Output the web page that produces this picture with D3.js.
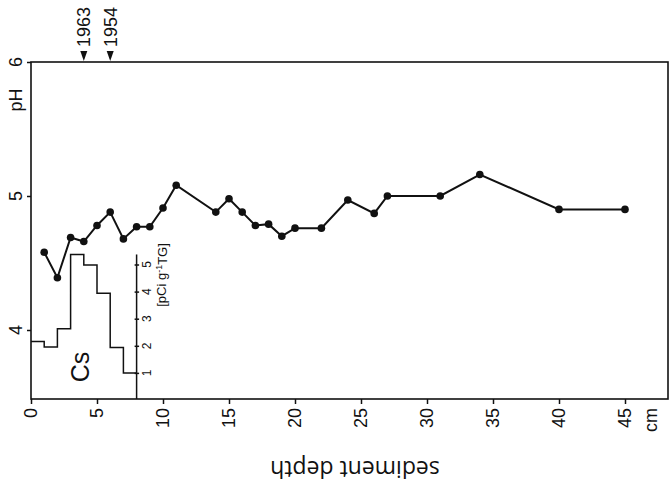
<!doctype html>
<html lang="en">

<head>
    <meta charset="utf-8">
    <title>pH and Cs profile</title>
    <script src="https://cdn.jsdelivr.net/npm/d3@7"></script>
    <style>
        body { margin: 0; background: #fff; }
        svg text { font-family: "Liberation Sans", Arial, sans-serif; fill: #111; }
    </style>
</head>

<body>
    <svg></svg>
    <script>
        var width = 671;
        var height = 494;

        // pH profile
        var depth = [1, 2, 3, 4, 5, 6, 7, 8, 9, 10, 11, 14, 15, 16, 17, 18, 19, 20, 22, 24, 26, 27, 31, 34, 40, 45];
        var pH = [4.58, 4.39, 4.69, 4.66, 4.78, 4.88, 4.68, 4.77, 4.77, 4.91, 5.08, 4.88, 4.98, 4.88, 4.78, 4.79, 4.70, 4.76, 4.76, 4.97, 4.87, 5.0, 5.0, 5.16, 4.90, 4.90];

        // Cs activity, one value per cm from 0 to 8
        var csDepth = [0, 1, 2, 3, 4, 5, 6, 7];
        var csValue = [2.16, 1.96, 2.63, 5.37, 4.98, 3.94, 1.94, 1.0];

        var xTicks = [0, 5, 10, 15, 20, 25, 30, 35, 40, 45];
        var yTicks = [4, 5, 6];
        var csTicks = [1, 2, 3, 4, 5];
        var years = ["1963", "1954"];
        var yearDepth = [4, 6];

        // plot box (note: "top" is reserved on window, so use other names)
        var plotLeft = 31, plotRight = 668, plotTop = 62, plotBottom = 399;

        var xScale = d3.scaleLinear().domain([0, 45]).range([plotLeft, plotLeft + 45 * 13.2]);
        var yScale = d3.scaleLinear().domain([4, 6]).range([330, plotTop]);
        var csScale = d3.scaleLinear().domain([0, 5]).range([plotBottom + 1, plotBottom + 1 - 5 * 27.1]);

        var svg = d3.select('svg').attr('width', width).attr('height', height);

        // frame
        svg.append('rect')
            .attr('x', plotLeft).attr('y', plotTop)
            .attr('width', plotRight - plotLeft).attr('height', plotBottom - plotTop)
            .attr('fill', 'none').attr('stroke', '#111').attr('stroke-width', 1.6);

        // x axis
        var xAxis = d3.axisBottom(xScale).tickValues(xTicks).tickSize(5).tickFormat('');
        var gx = svg.append('g').attr('transform', 'translate(0,' + plotBottom + ')').call(xAxis);
        gx.select('.domain').remove();
        gx.selectAll('line').attr('stroke', '#111').attr('stroke-width', 1.5);

        svg.selectAll('.xlab')
            .data(xTicks)
            .enter()
            .append('text')
            .attr('class', 'xlab')
            .attr('transform', function (d) { return 'translate(' + xScale(d) + ',408) rotate(-90)'; })
            .attr('text-anchor', 'end')
            .attr('dy', '0.35em')
            .attr('font-size', 18)
            .text(function (d) { return d; });

        svg.append('text')
            .attr('transform', 'translate(651,408) rotate(-90)')
            .attr('text-anchor', 'end')
            .attr('dy', '0.35em')
            .attr('font-size', 18)
            .text('cm');

        svg.append('text')
            .attr('transform', 'translate(355,469) rotate(180)')
            .attr('text-anchor', 'middle')
            .attr('dy', '0.35em')
            .attr('font-size', 23)
            .style('font-family', '"Open Sans", sans-serif')
            .text('sediment depth');

        // y axis
        var yAxis = d3.axisLeft(yScale).tickValues(yTicks).tickSize(4).tickFormat('');
        var gy = svg.append('g').attr('transform', 'translate(' + plotLeft + ',0)').call(yAxis);
        gy.select('.domain').remove();
        gy.selectAll('line').attr('stroke', '#111').attr('stroke-width', 1.5);

        svg.selectAll('.ylab')
            .data(yTicks)
            .enter()
            .append('text')
            .attr('class', 'ylab')
            .attr('transform', function (d) { return 'translate(16,' + yScale(d) + ') rotate(-90)'; })
            .attr('text-anchor', 'middle')
            .attr('dy', '0.35em')
            .attr('font-size', 18)
            .text(function (d) { return d; });

        svg.append('text')
            .attr('transform', 'translate(16,100) rotate(-90)')
            .attr('text-anchor', 'middle')
            .attr('dy', '0.35em')
            .attr('font-size', 18)
            .text('pH');

        // dating markers
        var marks = svg.selectAll('.yr')
            .data(years)
            .enter()
            .append('g')
            .attr('class', 'yr')
            .attr('transform', function (d, i) { return 'translate(' + xScale(yearDepth[i]) + ',0)'; });
        marks.append('path')
            .attr('d', 'M-3.5,51L3.5,51L0,61Z')
            .attr('fill', '#111');
        marks.append('text')
            .attr('transform', 'translate(0,47) rotate(-90)')
            .attr('text-anchor', 'start')
            .attr('dy', '0.35em')
            .attr('font-size', 18)
            .text(function (d) { return d; });

        // Cs histogram
        var csData = csDepth.map(function (d, i) { return [d, csValue[i]]; });
        csData.push([8, csValue[csValue.length - 1]]);

        var csLine = d3.line()
            .x(function (d) { return xScale(d[0]); })
            .y(function (d) { return csScale(d[1]); })
            .curve(d3.curveStepAfter);

        svg.append('path')
            .datum(csData)
            .attr('d', csLine)
            .attr('fill', 'none')
            .attr('stroke', '#111')
            .attr('stroke-width', 1.5);

        var csAxis = d3.axisRight(csScale).tickValues(csTicks).tickSize(2).tickFormat('');
        var gc = svg.append('g').attr('transform', 'translate(' + xScale(8) + ',0)').call(csAxis);
        gc.select('.domain').remove();
        gc.selectAll('line').attr('x1', -2).attr('x2', 2.5).attr('stroke', '#111').attr('stroke-width', 1.5);
        gc.append('line')
            .attr('y1', csScale(5.37)).attr('y2', plotBottom)
            .attr('stroke', '#111').attr('stroke-width', 1.5);

        svg.selectAll('.cslab')
            .data(csTicks)
            .enter()
            .append('text')
            .attr('class', 'cslab')
            .attr('transform', function (d) { return 'translate(147,' + csScale(d) + ') rotate(-90)'; })
            .attr('text-anchor', 'middle')
            .attr('dy', '0.35em')
            .attr('font-size', 12)
            .text(function (d) { return d; });

        var unit = svg.append('text')
            .attr('transform', 'translate(161,275) rotate(-90)')
            .attr('text-anchor', 'middle')
            .attr('dy', '0.35em')
            .attr('font-size', 13);
        unit.append('tspan').text('[pCi g');
        unit.append('tspan').attr('dy', '-0.4em').attr('font-size', 9).text('-1');
        unit.append('tspan').attr('dy', '0.4em').text('TG]');

        svg.append('text')
            .attr('transform', 'translate(80,367) rotate(-90)')
            .attr('text-anchor', 'middle')
            .attr('dy', '0.35em')
            .attr('font-size', 25)
            .text('Cs');

        // pH line
        var points = depth.map(function (d, i) { return [d, pH[i]]; });
        var line = d3.line()
            .x(function (d) { return xScale(d[0]); })
            .y(function (d) { return yScale(d[1]); });

        svg.append('path')
            .datum(points)
            .attr('d', line)
            .attr('fill', 'none')
            .attr('stroke', '#111')
            .attr('stroke-width', 2);

        svg.selectAll('circle')
            .data(points)
            .enter()
            .append('circle')
            .attr('cx', function (d) { return xScale(d[0]); })
            .attr('cy', function (d) { return yScale(d[1]); })
            .attr('r', 3.8)
            .attr('fill', '#111');
    </script>

</body>

</html>
